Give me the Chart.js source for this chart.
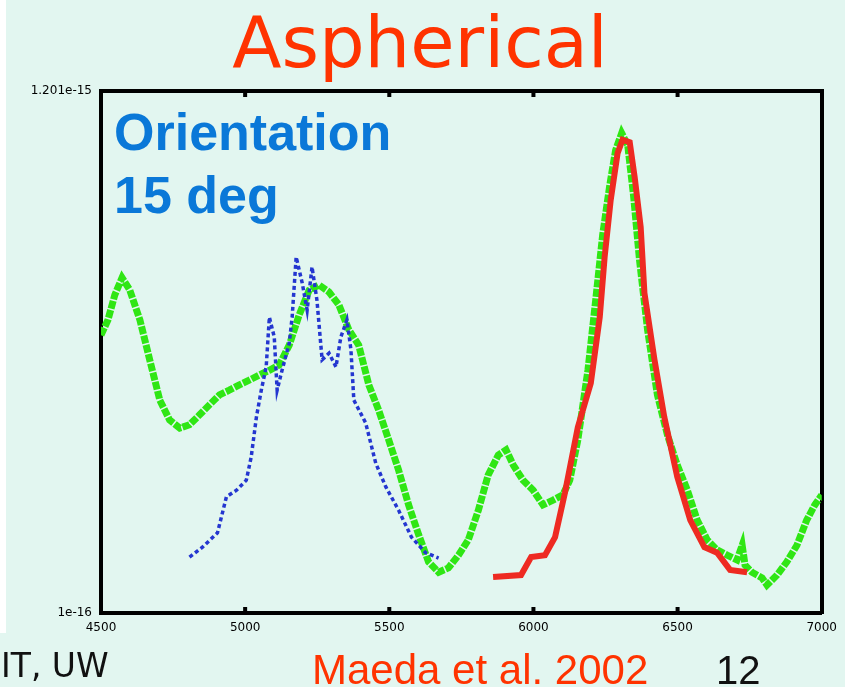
<!DOCTYPE html>
<html>
<head>
<meta charset="utf-8">
<script src="https://cdn.jsdelivr.net/npm/chart.js@4/dist/chart.umd.min.js"></script>
<style>
  html,body{margin:0;padding:0;}
  body{width:845px;height:687px;background:#e2f6f0;position:relative;overflow:hidden;font-family:"Liberation Sans",Arial,sans-serif;}
  #strip{position:absolute;left:0;top:0;width:6px;height:633px;background:#ffffff;}
  #wrap{position:absolute;left:0;top:0;width:845px;height:687px;}
  .t{position:absolute;white-space:nowrap;line-height:1;}
</style>
</head>
<body>
<div id="strip"></div>
<div id="wrap"><canvas id="c" width="845" height="687"></canvas></div>
<div class="t" id="title" style="left:0;width:840px;text-align:center;top:6px;font-size:72px;color:#ff3300;font-family:'DejaVu Sans',sans-serif;">Aspherical</div>
<div class="t" style="left:114px;top:106px;font-size:52px;font-weight:bold;color:#0a78d8;">Orientation</div>
<div class="t" style="left:114px;top:169px;font-size:52px;font-weight:bold;color:#0a78d8;">15 deg</div>
<div class="t" style="left:1px;top:649px;font-size:33px;color:#111;font-family:'DejaVu Sans',sans-serif;">IT, UW</div>
<div class="t" style="left:312px;top:649px;font-size:42px;color:#ff3300;">Maeda et al. 2002</div>
<div class="t" style="left:716px;top:650px;font-size:40px;color:#111;">12</div>
<script>
// wavelength (Angstrom) and flux (units of 1e-16)
const greenWave = [4500,4524,4548,4573,4600,4635,4669,4704,4738,4773,4807,4842,4876,4911,4945,4980,5014,5049,5084,5118,5153,5187,5222,5256,5291,5325,5360,5394,5429,5463,5498,5532,5567,5602,5636,5671,5705,5740,5774,5809,5843,5878,5905,5930,5964,5999,6033,6068,6102,6126,6154,6189,6216,6240,6265,6285,6306,6327,6347,6368,6396,6430,6465,6499,6534,6568,6603,6637,6672,6706,6724,6734,6758,6793,6810,6845,6879,6914,6948,6976,7000];
const greenFlux = [6.86,7.18,7.71,8.07,7.81,7.18,6.34,5.49,5.07,4.90,4.97,5.18,5.39,5.60,5.70,5.81,5.91,6.02,6.12,6.23,6.65,7.28,7.81,7.92,7.77,7.50,6.97,6.65,5.81,5.28,4.65,4.02,3.28,2.65,2.08,1.86,1.95,2.22,2.54,3.17,3.91,4.33,4.44,4.12,3.80,3.59,3.28,3.38,3.49,3.80,4.65,6.12,7.60,8.97,10.03,10.76,11.12,10.87,9.82,8.44,6.97,5.60,4.75,4.12,3.59,2.96,2.54,2.33,2.22,2.12,2.43,2.01,1.86,1.74,1.59,1.80,2.08,2.43,2.96,3.28,3.49];

const redWave = [5860,5957,5992,6040,6075,6109,6154,6199,6230,6247,6268,6292,6309,6334,6351,6372,6385,6420,6454,6499,6544,6593,6637,6682,6741];
const redFlux = [1.76,1.80,2.18,2.22,2.60,3.53,4.92,5.85,7.24,8.51,9.71,10.70,10.98,10.93,10.20,9.14,7.75,6.34,5.13,3.87,2.96,2.39,2.27,1.91,1.86];

const blueWave = [4807,4852,4904,4935,4970,5004,5021,5039,5056,5073,5084,5101,5111,5128,5153,5163,5177,5198,5215,5232,5249,5267,5291,5315,5332,5353,5367,5377,5418,5453,5488,5532,5577,5626,5671];
const blueFlux = [2.18,2.39,2.69,3.45,3.59,3.80,4.29,5.13,5.70,6.19,7.24,6.82,5.70,6.12,6.69,7.24,8.51,7.96,7.39,8.30,7.60,6.34,6.48,6.19,6.82,7.18,6.55,5.49,5.01,4.16,3.66,3.17,2.60,2.27,2.16];

const xTickValues = [4500,5000,5500,6000,6500,7000];
const xTickLabels = ['4500','5000','5500','6000','6500','7000'];
const yTickValues = [1, 12.01];
const yTickLabels = ['1e-16','1.201e-15'];

function pts(xs, ys){ return xs.map((x,i)=>({x:x,y:ys[i]})); }

const frameTicks = {
  id:'frameTicks',
  afterDraw(chart){
    const ctx = chart.ctx, a = chart.chartArea, sx = chart.scales.x;
    ctx.save();
    ctx.strokeStyle = '#000';
    ctx.lineWidth = 4;
    xTickValues.slice(1,-1).forEach(v=>{
      const px = sx.getPixelForValue(v);
      ctx.beginPath();
      ctx.moveTo(px, a.bottom); ctx.lineTo(px, a.bottom-6);
      ctx.moveTo(px, a.top); ctx.lineTo(px, a.top+6);
      ctx.stroke();
    });
    ctx.restore();
  }
};

const tickFont = {family:'"DejaVu Sans"', size:12};
new Chart(document.getElementById('c'), {
  type:'line',
  data:{
    datasets:[
      {data:pts(greenWave,greenFlux), borderColor:'#2fe614', borderWidth:7, borderDash:[8,1.5], pointRadius:0, tension:0, order:3},
      {data:pts(blueWave,blueFlux), borderColor:'#2436d0', borderWidth:3.5, borderDash:[4,3], pointRadius:0, tension:0, order:2},
      {data:pts(redWave,redFlux), borderColor:'#ee2a22', borderWidth:6, pointRadius:0, tension:0, order:1}
    ]
  },
  options:{
    responsive:false, animation:false,
    layout:{padding:{top:91,right:20,left:0,bottom:0}},
    plugins:{legend:{display:false}, tooltip:{enabled:false}},
    scales:{
      x:{type:'linear', position:'bottom', min:4500, max:7000,
         afterBuildTicks:s=>{s.ticks = xTickValues.map(v=>({value:v}));},
         afterFit:s=>{s.height = 74;},
         ticks:{color:'#000', font:tickFont, padding:8, maxRotation:0, autoSkip:false,
                callback:(v)=>xTickLabels[xTickValues.indexOf(v)]},
         grid:{drawOnChartArea:false, drawTicks:false},
         border:{display:true, color:'#000', width:4}},
      x2:{type:'linear', position:'top', min:4500, max:7000,
         afterFit:s=>{s.height = 0;},
         ticks:{display:false}, grid:{drawOnChartArea:false, drawTicks:false},
         border:{display:true, color:'#000', width:4}},
      y:{type:'linear', position:'left', min:1, max:12.01,
         afterBuildTicks:s=>{s.ticks = yTickValues.map(v=>({value:v}));},
         afterFit:s=>{s.width = 101;},
         ticks:{color:'#000', font:tickFont, padding:9,
                callback:(v)=>yTickLabels[yTickValues.indexOf(v)]},
         grid:{drawOnChartArea:false, drawTicks:false},
         border:{display:true, color:'#000', width:4}},
      y2:{type:'linear', position:'right', min:1, max:12.01,
         afterFit:s=>{s.width = 0;},
         ticks:{display:false}, grid:{drawOnChartArea:false, drawTicks:false},
         border:{display:true, color:'#000', width:4}}
    }
  },
  plugins:[frameTicks]
});
</script>
</body>
</html>
